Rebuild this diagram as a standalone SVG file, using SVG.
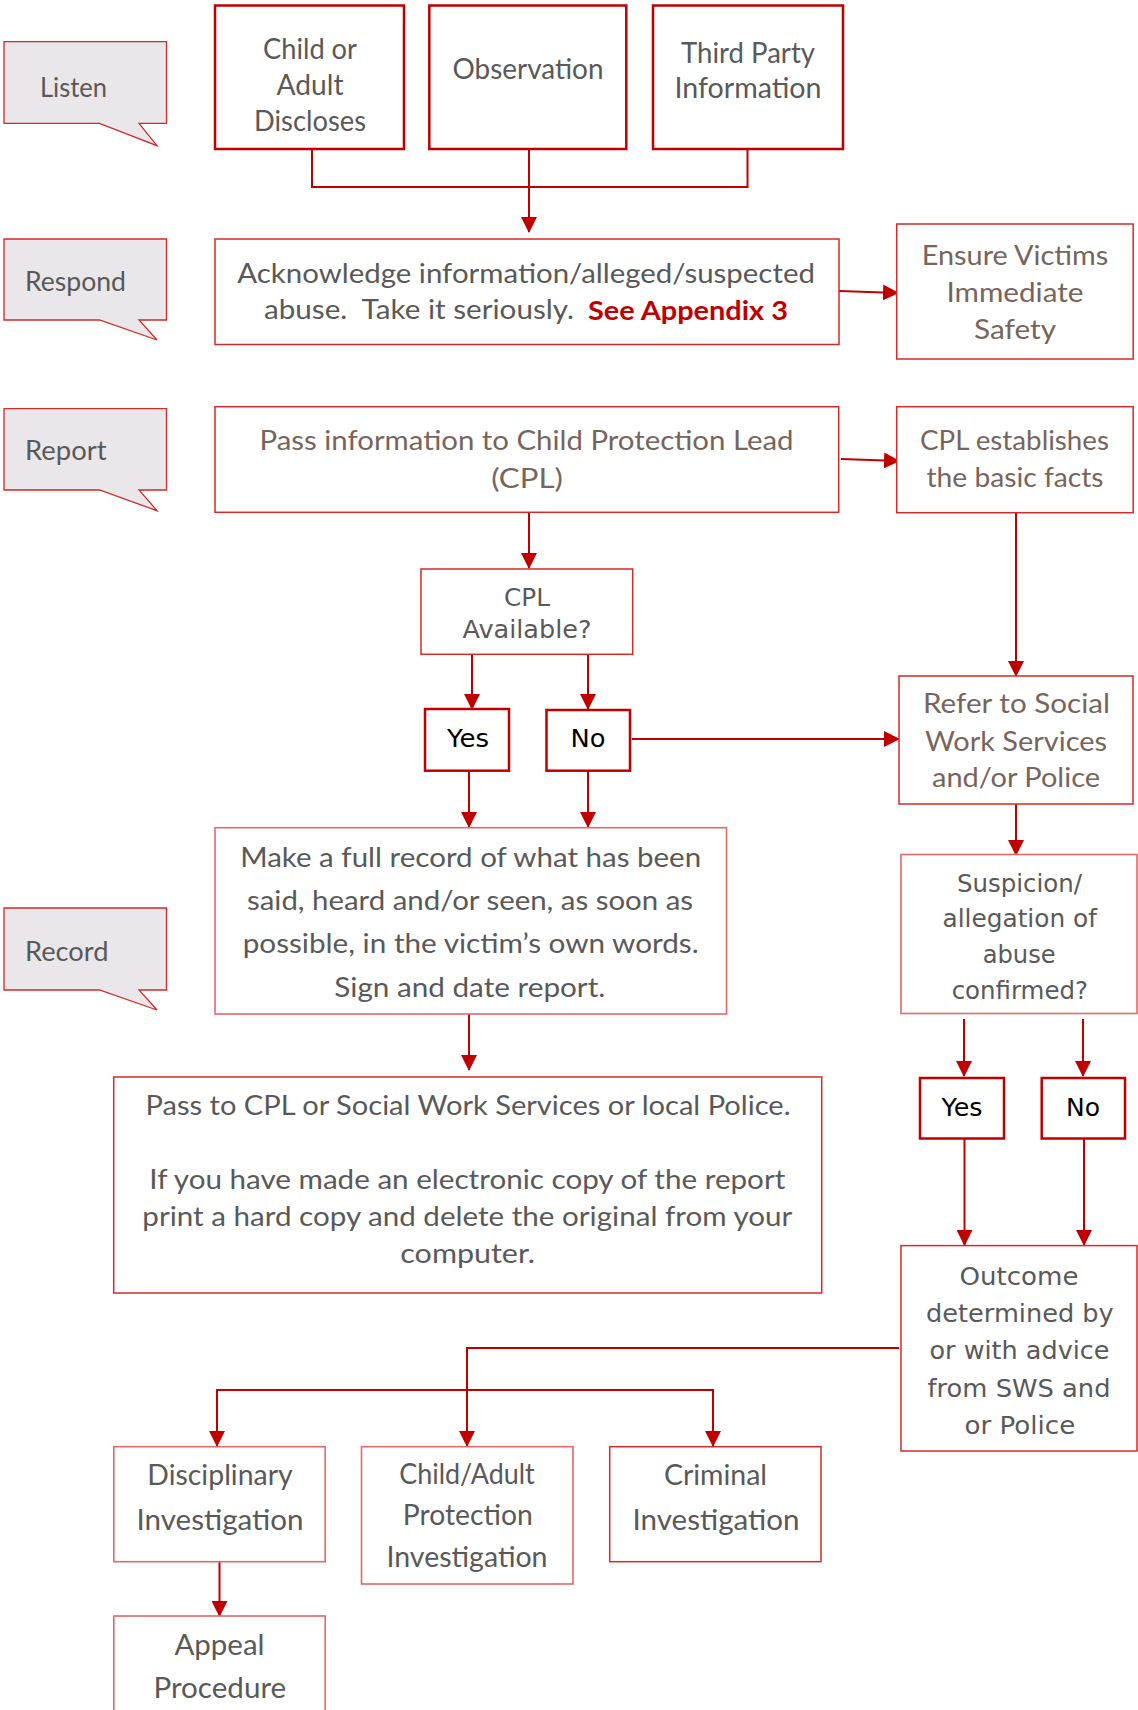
<svg xmlns="http://www.w3.org/2000/svg" width="1138" height="1710" viewBox="0 0 1138 1710">
<style>
.bg{fill:#ffffff}
.thick{fill:#ffffff;stroke:#C00000;stroke-width:2.5}
.thin{fill:#ffffff;stroke:#D42A2A;stroke-width:1.5}
.light{fill:#ffffff;stroke:#E06A6A;stroke-width:1.6}
.callout{fill:#E9E7EA;stroke:#D42A2A;stroke-width:1.3}
.conn{fill:none;stroke:#C00000;stroke-width:2}
text{font-family:Lato,"Liberation Sans",sans-serif;fill:#595959}
.lbl{font-size:26px}
.h{font-size:27px;text-anchor:middle}
.br{fill:#76655D}
.geo{font-family:"DejaVu Sans","Liberation Sans",sans-serif;font-size:24px;text-anchor:middle}
.blk{fill:#000000}
.red{fill:#C00000;font-weight:bold}
</style>
<defs>
<marker id="ah" markerUnits="userSpaceOnUse" markerWidth="16" markerHeight="16" refX="15" refY="8" orient="auto" viewBox="0 0 16 16">
<path d="M0,0 L16,8 L0,16 Z" fill="#C00000"/>
</marker>
</defs>
<rect class="bg" x="0" y="0" width="1138" height="1710"/>

<g id="connectors">
<path class="conn" d="M312,149 V187 H747.5 V149"/>
<path class="conn" d="M529,149 V232" marker-end="url(#ah)"/>
<path class="conn" d="M839,291 L898,293" marker-end="url(#ah)"/>
<path class="conn" d="M529,512 V568" marker-end="url(#ah)"/>
<path class="conn" d="M841,459 L899,461" marker-end="url(#ah)"/>
<path class="conn" d="M1016,513 V676" marker-end="url(#ah)"/>
<path class="conn" d="M472,654 V709" marker-end="url(#ah)"/>
<path class="conn" d="M588,654 V709" marker-end="url(#ah)"/>
<path class="conn" d="M632,739 H899" marker-end="url(#ah)"/>
<path class="conn" d="M469,771 V827" marker-end="url(#ah)"/>
<path class="conn" d="M588,771 V827" marker-end="url(#ah)"/>
<path class="conn" d="M469,1014 V1070" marker-end="url(#ah)"/>
<path class="conn" d="M1016,804 V855" marker-end="url(#ah)"/>
<path class="conn" d="M964,1019 V1076" marker-end="url(#ah)"/>
<path class="conn" d="M1083,1019 V1076" marker-end="url(#ah)"/>
<path class="conn" d="M964.5,1139 V1245" marker-end="url(#ah)"/>
<path class="conn" d="M1084,1139 V1245" marker-end="url(#ah)"/>
<path class="conn" d="M899,1348 H467 V1446" marker-end="url(#ah)"/>
<path class="conn" d="M467,1390 H217 V1446" marker-end="url(#ah)"/>
<path class="conn" d="M467,1390 H713 V1446" marker-end="url(#ah)"/>
<path class="conn" d="M219.5,1562 V1616" marker-end="url(#ah)"/>
</g>

<g id="listen">
<path class="callout" d="M4,41.7 H166.5 V123.3 H139 L157,145.7 L99.5,123.3 H4 Z"/>
<text class="lbl" x="40" y="96.7" textLength="67" lengthAdjust="spacingAndGlyphs">Listen</text>
</g>
<g id="respond">
<path class="callout" d="M4,239 H166.5 V320 H139 L157,340 L99.5,320 H4 Z"/>
<text class="lbl" x="25" y="291" textLength="101" lengthAdjust="spacingAndGlyphs">Respond</text>
</g>
<g id="report">
<path class="callout" d="M4,408.7 H166.5 V490 H139 L157,510.7 L99.5,490 H4 Z"/>
<text class="lbl" x="25" y="460" textLength="81.5" lengthAdjust="spacingAndGlyphs">Report</text>
</g>
<g id="record">
<path class="callout" d="M4,908 H166.5 V990 H139 L157,1010 L99.5,990 H4 Z"/>
<text class="lbl" x="25" y="961" textLength="83.4" lengthAdjust="spacingAndGlyphs">Record</text>
</g>

<g id="child-discloses">
<rect class="thick" x="215" y="5.5" width="189" height="143.5"/>
<text class="h" style="font-size:28px" x="310" y="59.3" textLength="94" lengthAdjust="spacingAndGlyphs">Child or</text>
<text class="h" style="font-size:28px" x="310" y="95" textLength="67" lengthAdjust="spacingAndGlyphs">Adult</text>
<text class="h" style="font-size:28px" x="310" y="131" textLength="112" lengthAdjust="spacingAndGlyphs">Discloses</text>
</g>
<g id="observation">
<rect class="thick" x="429.3" y="5.5" width="197" height="143.5"/>
<text class="h" style="font-size:28px" x="528" y="79.3" textLength="151" lengthAdjust="spacingAndGlyphs">Observation</text>
</g>
<g id="third-party">
<rect class="thick" x="653" y="5.5" width="190" height="143.5"/>
<text class="h" style="font-size:28px" x="748" y="62.7" textLength="134" lengthAdjust="spacingAndGlyphs">Third Party</text>
<text class="h" style="font-size:28px" x="748" y="98.3" textLength="147" lengthAdjust="spacingAndGlyphs">Information</text>
</g>

<g id="acknowledge">
<rect class="thin" x="215" y="239" width="624" height="105.5"/>
<text style="font-size:27px" x="237.3" y="282.7" textLength="577.6" lengthAdjust="spacingAndGlyphs">Acknowledge information/alleged/suspected</text>
<text style="font-size:27px" x="264" y="319.3" textLength="310" lengthAdjust="spacingAndGlyphs" xml:space="preserve">abuse.  Take it seriously.</text>
<text class="red" style="font-size:27px" x="588" y="320" textLength="200" lengthAdjust="spacingAndGlyphs">See Appendix 3</text>
</g>
<g id="ensure-safety">
<rect class="thin" x="896.7" y="224" width="236.5" height="135"/>
<text class="h br" x="1015" y="265" textLength="186.5" lengthAdjust="spacingAndGlyphs">Ensure Victims</text>
<text class="h br" x="1015" y="301.7" textLength="137" lengthAdjust="spacingAndGlyphs">Immediate</text>
<text class="h br" x="1015" y="339" textLength="82" lengthAdjust="spacingAndGlyphs">Safety</text>
</g>

<g id="pass-info">
<rect class="thin" x="215" y="406.7" width="623.7" height="105.6"/>
<text class="h br" x="526.5" y="450" textLength="534" lengthAdjust="spacingAndGlyphs">Pass information to Child Protection Lead</text>
<text class="h br" x="527" y="488" textLength="71.6" lengthAdjust="spacingAndGlyphs">(CPL)</text>
</g>
<g id="cpl-establishes">
<rect class="thin" x="896.7" y="406.7" width="236.5" height="106"/>
<text class="h br" x="1014.5" y="450" textLength="189" lengthAdjust="spacingAndGlyphs">CPL establishes</text>
<text class="h br" x="1015" y="486.7" textLength="177" lengthAdjust="spacingAndGlyphs">the basic facts</text>
</g>

<g id="cpl-available">
<rect class="thin" x="421" y="569" width="211.7" height="85.3"/>
<text class="geo" x="527" y="606" textLength="46" lengthAdjust="spacingAndGlyphs">CPL</text>
<text class="geo" x="527" y="638" textLength="129" lengthAdjust="spacingAndGlyphs">Available?</text>
</g>
<g id="yes-1">
<rect class="thick" x="425" y="709" width="84" height="61.7"/>
<text class="geo blk" x="468" y="746.7" textLength="42" lengthAdjust="spacingAndGlyphs">Yes</text>
</g>
<g id="no-1">
<rect class="thick" x="546.5" y="710" width="83.5" height="60.7"/>
<text class="geo blk" x="588" y="746.7" textLength="35" lengthAdjust="spacingAndGlyphs">No</text>
</g>

<g id="refer">
<rect class="thin" x="899" y="676" width="234" height="128"/>
<text class="h br" x="1016.5" y="713" textLength="187" lengthAdjust="spacingAndGlyphs">Refer to Social</text>
<text class="h br" x="1016" y="750.7" textLength="182" lengthAdjust="spacingAndGlyphs">Work Services</text>
<text class="h br" x="1016" y="787.3" textLength="168" lengthAdjust="spacingAndGlyphs">and/or Police</text>
</g>

<g id="make-record">
<rect class="light" x="215" y="827.7" width="511.5" height="186.3"/>
<text class="h" x="470.7" y="866.7" textLength="461" lengthAdjust="spacingAndGlyphs">Make a full record of what has been</text>
<text class="h" x="470" y="910" textLength="446" lengthAdjust="spacingAndGlyphs">said, heard and/or seen, as soon as</text>
<text class="h" x="470.7" y="953.3" textLength="456" lengthAdjust="spacingAndGlyphs">possible, in the victim’s own words.</text>
<text class="h" x="469.8" y="996.7" textLength="271" lengthAdjust="spacingAndGlyphs">Sign and date report.</text>
</g>

<g id="pass-to-cpl">
<rect class="thin" x="113.7" y="1077" width="708" height="216"/>
<text class="h" x="468" y="1115" textLength="645" lengthAdjust="spacingAndGlyphs">Pass to CPL or Social Work Services or local Police.</text>
<text class="h" x="467.3" y="1189.3" textLength="636" lengthAdjust="spacingAndGlyphs">If you have made an electronic copy of the report</text>
<text class="h" x="467.3" y="1226" textLength="650" lengthAdjust="spacingAndGlyphs">print a hard copy and delete the original from your</text>
<text class="h" x="467.7" y="1263.3" textLength="134.7" lengthAdjust="spacingAndGlyphs">computer.</text>
</g>

<g id="suspicion">
<rect class="light" x="901" y="854.5" width="236" height="159"/>
<text class="geo" x="1019.5" y="891.6" textLength="125" lengthAdjust="spacingAndGlyphs">Suspicion/</text>
<text class="geo" x="1019.7" y="927" textLength="154.4" lengthAdjust="spacingAndGlyphs">allegation of</text>
<text class="geo" x="1019.2" y="963" textLength="73" lengthAdjust="spacingAndGlyphs">abuse</text>
<text class="geo" x="1019.8" y="998.7" textLength="136.3" lengthAdjust="spacingAndGlyphs">confirmed?</text>
</g>
<g id="yes-2">
<rect class="thick" x="920" y="1078" width="84" height="60.5"/>
<text class="geo blk" x="962" y="1115.7" textLength="41" lengthAdjust="spacingAndGlyphs">Yes</text>
</g>
<g id="no-2">
<rect class="thick" x="1041.7" y="1078" width="83.3" height="60.5"/>
<text class="geo blk" x="1083" y="1115.7" textLength="34" lengthAdjust="spacingAndGlyphs">No</text>
</g>

<g id="outcome">
<rect class="thin" x="901" y="1245.6" width="236" height="205.4"/>
<text class="geo" style="font-size:25px" x="1019" y="1284.5" textLength="119" lengthAdjust="spacingAndGlyphs">Outcome</text>
<text class="geo" style="font-size:25px" x="1019.9" y="1322.4" textLength="187.7" lengthAdjust="spacingAndGlyphs">determined by</text>
<text class="geo" style="font-size:25px" x="1019.5" y="1359" textLength="180" lengthAdjust="spacingAndGlyphs">or with advice</text>
<text class="geo" style="font-size:25px" x="1019" y="1397" textLength="183" lengthAdjust="spacingAndGlyphs">from SWS and</text>
<text class="geo" style="font-size:25px" x="1019.9" y="1434" textLength="110.8" lengthAdjust="spacingAndGlyphs">or Police</text>
</g>

<g id="disciplinary">
<rect class="light" x="113.8" y="1446.7" width="211.4" height="115"/>
<text class="h" style="font-size:28px" x="220" y="1485" textLength="145.3" lengthAdjust="spacingAndGlyphs">Disciplinary</text>
<text class="h" style="font-size:28px" x="220" y="1530" textLength="167" lengthAdjust="spacingAndGlyphs">Investigation</text>
</g>
<g id="child-adult-protection">
<rect class="light" x="361.5" y="1446.7" width="211.5" height="137.3"/>
<text class="h" style="font-size:28px" x="467" y="1484" textLength="135.5" lengthAdjust="spacingAndGlyphs">Child/Adult</text>
<text class="h" style="font-size:28px" x="467.8" y="1525" textLength="130" lengthAdjust="spacingAndGlyphs">Protection</text>
<text class="h" style="font-size:28px" x="467" y="1566.7" textLength="161" lengthAdjust="spacingAndGlyphs">Investigation</text>
</g>
<g id="criminal">
<rect class="thin" x="609.7" y="1446.7" width="211.3" height="115"/>
<text class="h" style="font-size:28px" x="715.5" y="1485" textLength="103" lengthAdjust="spacingAndGlyphs">Criminal</text>
<text class="h" style="font-size:28px" x="716" y="1530" textLength="167" lengthAdjust="spacingAndGlyphs">Investigation</text>
</g>
<g id="appeal">
<rect class="light" x="113.8" y="1616" width="211.4" height="110"/>
<text class="h" style="font-size:28px" x="219.5" y="1655" textLength="90" lengthAdjust="spacingAndGlyphs">Appeal</text>
<text class="h" style="font-size:28px" x="219.8" y="1698.3" textLength="132.8" lengthAdjust="spacingAndGlyphs">Procedure</text>
</g>
</svg>
